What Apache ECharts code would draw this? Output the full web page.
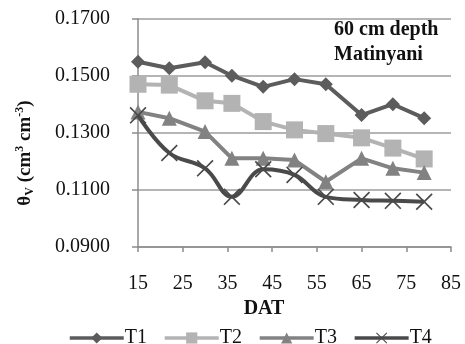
<!DOCTYPE html>
<html>
<head>
<meta charset="utf-8">
<script src="https://cdn.jsdelivr.net/npm/echarts@6/dist/echarts.min.js"></script>
<style>
  html, body { margin: 0; padding: 0; background: #fff; }
  #chart { width: 465px; height: 344px; }
</style>
</head>
<body>
<div id="chart"></div>
<script>
// Days after transplanting (DAT) at which soil moisture was sampled
const dat = [15, 22, 30, 36, 43, 50, 57, 65, 72, 79];

// Volumetric soil moisture at 60 cm depth for each treatment
const t1 = [0.1550, 0.1527, 0.1548, 0.1501, 0.1462, 0.1489, 0.1471, 0.1363, 0.1401, 0.1352];
const t2 = [0.1471, 0.1468, 0.1413, 0.1404, 0.1340, 0.1311, 0.1298, 0.1283, 0.1247, 0.1209];
const t3 = [0.1374, 0.1352, 0.1305, 0.1211, 0.1211, 0.1205, 0.1129, 0.1211, 0.1176, 0.1161];
const t4 = [0.1362, 0.1230, 0.1176, 0.1076, 0.1173, 0.1153, 0.1076, 0.1065, 0.1062, 0.1059];

const seriesNames = ['T1', 'T2', 'T3', 'T4'];

// Axis ranges
const xMin = 15, xMax = 85, xStep = 10;
const yMin = 0.09, yMax = 0.17, yStep = 0.02;

const FONT = '"Liberation Serif", "Times New Roman", serif';

// Thin "X" marker as a filled outline
const crossPath = 'path://M7,0L50,43L93,0L100,7L57,50L100,93L93,100L50,57L7,100L0,93L43,50L0,7Z';

function pairs(ys) {
  return dat.map((d, i) => [d, ys[i]]);
}

const chart = echarts.init(document.getElementById('chart'), null, { renderer: 'canvas' });

const lineW = 4;

chart.setOption({
  animation: false,
  backgroundColor: '#ffffff',
  textStyle: { fontFamily: FONT },
  grid: { left: 138, right: 14, top: 19, bottom: 97, containLabel: false },
  xAxis: {
    type: 'value',
    min: xMin, max: xMax, interval: xStep,
    axisLine: { show: true, lineStyle: { color: '#8c8c8c', width: 1.5 } },
    axisTick: { show: true, length: 5, lineStyle: { color: '#8c8c8c', width: 1.5 } },
    splitLine: { show: false },
    axisLabel: { color: '#111', fontSize: 20, fontFamily: FONT, margin: 27 }
  },
  yAxis: {
    type: 'value',
    min: yMin, max: yMax, interval: yStep,
    axisLine: { show: true, lineStyle: { color: '#8c8c8c', width: 1.5 } },
    axisTick: { show: true, length: 6, lineStyle: { color: '#8c8c8c', width: 1.5 } },
    splitLine: { show: true, lineStyle: { color: '#9c9c9c', width: 1.5 } },
    axisLabel: {
      color: '#111', fontSize: 20, fontFamily: FONT, margin: 28,
      formatter: v => v.toFixed(4)
    }
  },
  legend: {
    data: seriesNames,
    left: 63, top: 323,
    itemWidth: 54, itemHeight: 14, itemGap: 16,
    lineStyle: { width: 3.5 },
    textStyle: { color: '#111', fontSize: 20, fontFamily: FONT, padding: [0, 0, 0, -4] }
  },
  graphic: [
    {
      type: 'text',
      x: 25, y: 153,
      rotation: Math.PI / 2,
      style: {
        text: '{a|θ}{s|V}{a| (cm}{p|3}{a| cm}{p|-3}{a|)}',
        align: 'center', verticalAlign: 'middle',
        fill: '#111',
        rich: {
          a: { fontSize: 19, fontWeight: 'bold', fontFamily: FONT, lineHeight: 22, verticalAlign: 'middle' },
          s: { fontSize: 12, fontWeight: 'bold', fontFamily: FONT, lineHeight: 22, verticalAlign: 'bottom' },
          p: { fontSize: 12, fontWeight: 'bold', fontFamily: FONT, lineHeight: 22, verticalAlign: 'top' }
        }
      }
    },
    {
      type: 'text',
      x: 264, y: 309,
      style: {
        text: 'DAT', fill: '#111',
        font: 'bold 20px ' + FONT,
        align: 'center', verticalAlign: 'middle'
      }
    },
    {
      type: 'text',
      x: 334, y: 42,
      style: {
        text: '60 cm depth\nMatinyani', fill: '#111',
        font: 'bold 20px ' + FONT,
        lineHeight: 25,
        align: 'left', verticalAlign: 'middle'
      }
    }
  ],
  series: [
    {
      name: 'T1', type: 'line', data: pairs(t1),
      symbol: 'diamond', symbolSize: 14,
      lineStyle: { color: '#5c5c5c', width: lineW },
      itemStyle: { color: '#5c5c5c' }, z: 2
    },
    {
      name: 'T2', type: 'line', data: pairs(t2),
      symbol: 'rect', symbolSize: 17,
      lineStyle: { color: '#b3b3b3', width: lineW },
      itemStyle: { color: '#b3b3b3' }, z: 3
    },
    {
      name: 'T3', type: 'line', data: pairs(t3),
      symbol: 'triangle', symbolSize: 15,
      lineStyle: { color: '#828282', width: lineW },
      itemStyle: { color: '#828282' }, z: 4
    },
    {
      name: 'T4', type: 'line', data: pairs(t4),
      smooth: 0.4,
      symbol: crossPath, symbolSize: 17,
      lineStyle: { color: '#4a4a4a', width: lineW },
      itemStyle: { color: '#4a4a4a' }, z: 5
    }
  ]
});
</script>
</body>
</html>
